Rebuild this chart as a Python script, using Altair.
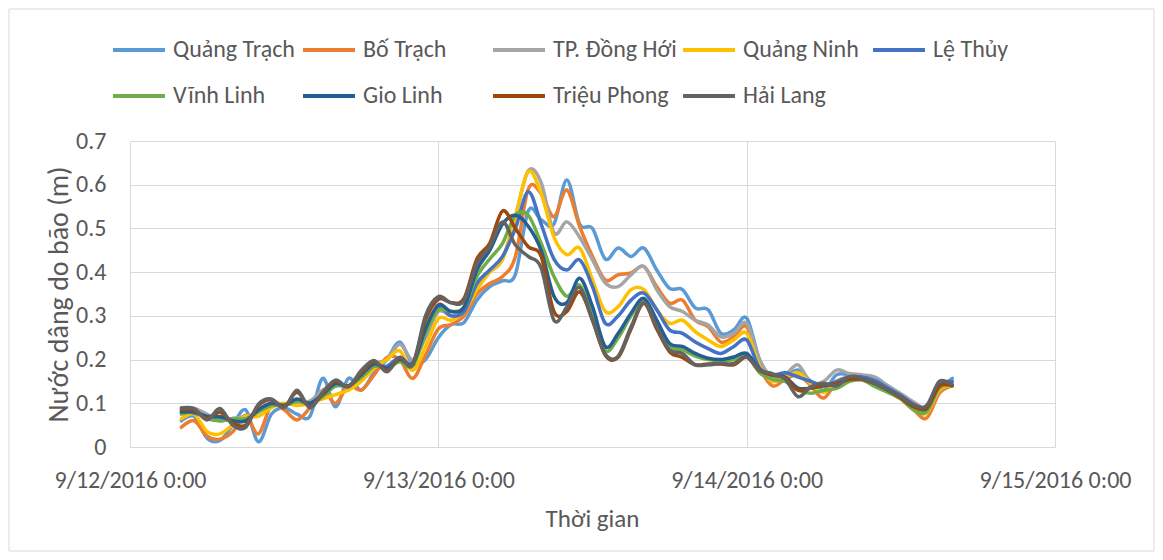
import altair as alt
import pandas as pd

# hourly records, 9/12/2016 04:00 -> 9/14/2016 16:00 (UTC labels, no tz shift)
hours = pd.date_range("2016-09-12 04:00", "2016-09-14 16:00", freq="h")
times = [t.strftime("%Y-%m-%dT%H:%M:%SZ") for t in hours]

series_names = ["Quảng Trạch", "Bố Trạch", "TP. Đồng Hới", "Quảng Ninh", "Lệ Thủy",
                "Vĩnh Linh", "Gio Linh", "Triệu Phong", "Hải Lang"]
colors = ["#5B9BD5", "#ED7D31", "#A5A5A5", "#FFC000", "#4472C4",
          "#70AD47", "#255E91", "#9E480E", "#636363"]

quang_trach = [0.060, 0.070, 0.020, 0.015, 0.050, 0.085, 0.012, 0.075, 0.090, 0.075, 0.070,
               0.157, 0.092, 0.157, 0.130, 0.170, 0.200, 0.240, 0.190, 0.200, 0.250,
               0.280, 0.285, 0.336, 0.367, 0.380, 0.395, 0.540, 0.520, 0.510, 0.611, 0.510,
               0.500, 0.430, 0.455, 0.436, 0.455, 0.405, 0.363, 0.360, 0.318, 0.314, 0.260, 0.268, 0.295,
               0.200, 0.155, 0.160, 0.176, 0.150, 0.130, 0.165, 0.165, 0.160, 0.150, 0.132, 0.115, 0.098, 0.080, 0.130, 0.157]
bo_trach = [0.045, 0.060, 0.025, 0.018, 0.035, 0.072, 0.030, 0.095, 0.085, 0.062, 0.090,
            0.130, 0.100, 0.140, 0.130, 0.165, 0.205, 0.200, 0.157, 0.210, 0.270,
            0.280, 0.300, 0.350, 0.374, 0.390, 0.436, 0.590, 0.580, 0.527, 0.588, 0.504,
            0.436, 0.382, 0.394, 0.398, 0.413, 0.367, 0.329, 0.336, 0.290, 0.275, 0.240, 0.252, 0.275,
            0.185, 0.140, 0.155, 0.165, 0.140, 0.112, 0.150, 0.160, 0.158, 0.148, 0.128, 0.110, 0.085, 0.066, 0.123, 0.140]
dong_hoi = [0.090, 0.088, 0.075, 0.060, 0.065, 0.070, 0.080, 0.100, 0.098, 0.100, 0.105,
            0.130, 0.145, 0.140, 0.160, 0.190, 0.200, 0.235, 0.200, 0.250, 0.310,
            0.300, 0.310, 0.370, 0.400, 0.430, 0.527, 0.632, 0.605, 0.490, 0.515, 0.480,
            0.428, 0.375, 0.367, 0.394, 0.413, 0.360, 0.321, 0.310, 0.290, 0.279, 0.252, 0.260, 0.283,
            0.200, 0.160, 0.165, 0.188, 0.146, 0.150, 0.176, 0.168, 0.165, 0.160, 0.140, 0.122, 0.103, 0.090, 0.135, 0.150]
quang_ninh = [0.065, 0.075, 0.035, 0.030, 0.050, 0.070, 0.070, 0.090, 0.100, 0.095, 0.100,
              0.110, 0.120, 0.130, 0.150, 0.180, 0.200, 0.220, 0.175, 0.230, 0.294,
              0.290, 0.310, 0.360, 0.400, 0.430, 0.527, 0.630, 0.580, 0.480, 0.440, 0.455,
              0.382, 0.310, 0.321, 0.360, 0.360, 0.314, 0.283, 0.290, 0.264, 0.245, 0.230, 0.245, 0.260,
              0.185, 0.150, 0.160, 0.170, 0.145, 0.125, 0.150, 0.160, 0.158, 0.148, 0.130, 0.112, 0.090, 0.077, 0.130, 0.140]
le_thuy = [0.080, 0.078, 0.070, 0.065, 0.060, 0.060, 0.085, 0.100, 0.095, 0.105, 0.100,
           0.120, 0.140, 0.140, 0.160, 0.185, 0.185, 0.205, 0.190, 0.260, 0.320,
           0.300, 0.310, 0.374, 0.405, 0.436, 0.500, 0.584, 0.510, 0.430, 0.405, 0.428,
           0.367, 0.283, 0.300, 0.336, 0.352, 0.314, 0.268, 0.260, 0.240, 0.225, 0.214, 0.230, 0.245,
           0.180, 0.165, 0.170, 0.160, 0.150, 0.140, 0.150, 0.160, 0.160, 0.152, 0.135, 0.118, 0.098, 0.090, 0.140, 0.150]
vinh_linh = [0.075, 0.080, 0.065, 0.060, 0.065, 0.065, 0.080, 0.095, 0.095, 0.105, 0.100,
             0.115, 0.140, 0.140, 0.160, 0.185, 0.180, 0.195, 0.185, 0.260, 0.313,
             0.310, 0.320, 0.390, 0.430, 0.466, 0.530, 0.530, 0.466, 0.390, 0.345, 0.370,
             0.300, 0.220, 0.250, 0.300, 0.335, 0.285, 0.230, 0.222, 0.208, 0.200, 0.198, 0.200, 0.210,
             0.170, 0.155, 0.150, 0.130, 0.123, 0.130, 0.134, 0.150, 0.153, 0.138, 0.125, 0.110, 0.085, 0.080, 0.135, 0.140]
gio_linh = [0.080, 0.080, 0.070, 0.070, 0.060, 0.060, 0.085, 0.100, 0.095, 0.110, 0.100,
            0.120, 0.145, 0.140, 0.165, 0.190, 0.180, 0.200, 0.190, 0.270, 0.325,
            0.310, 0.320, 0.405, 0.450, 0.510, 0.530, 0.505, 0.450, 0.345, 0.330, 0.386,
            0.321, 0.230, 0.260, 0.306, 0.340, 0.290, 0.237, 0.230, 0.214, 0.203, 0.200, 0.206, 0.214,
            0.178, 0.165, 0.160, 0.135, 0.135, 0.140, 0.145, 0.155, 0.155, 0.145, 0.130, 0.115, 0.095, 0.088, 0.140, 0.142]
trieu_phong = [0.085, 0.085, 0.065, 0.080, 0.055, 0.050, 0.095, 0.108, 0.092, 0.125, 0.092,
               0.122, 0.150, 0.138, 0.170, 0.195, 0.175, 0.203, 0.190, 0.290, 0.338,
               0.330, 0.340, 0.430, 0.466, 0.540, 0.500, 0.458, 0.436, 0.310, 0.310, 0.355,
               0.290, 0.210, 0.205, 0.270, 0.328, 0.270, 0.218, 0.205, 0.188, 0.190, 0.190, 0.188, 0.205,
               0.175, 0.165, 0.158, 0.130, 0.135, 0.142, 0.145, 0.155, 0.155, 0.145, 0.130, 0.112, 0.092, 0.090, 0.140, 0.140]
hai_lang = [0.089, 0.088, 0.062, 0.088, 0.050, 0.045, 0.098, 0.110, 0.090, 0.130, 0.090,
            0.125, 0.153, 0.138, 0.175, 0.198, 0.172, 0.205, 0.188, 0.300, 0.344,
            0.330, 0.335, 0.420, 0.458, 0.515, 0.462, 0.436, 0.410, 0.290, 0.320, 0.365,
            0.290, 0.212, 0.208, 0.275, 0.330, 0.275, 0.222, 0.214, 0.188, 0.188, 0.191, 0.191, 0.206,
            0.176, 0.168, 0.155, 0.115, 0.138, 0.146, 0.140, 0.161, 0.157, 0.145, 0.130, 0.115, 0.096, 0.095, 0.150, 0.142]

series_values = [quang_trach, bo_trach, dong_hoi, quang_ninh, le_thuy,
                 vinh_linh, gio_linh, trieu_phong, hai_lang]

rows = []
for name, vals in zip(series_names, series_values):
    assert len(vals) == len(times), (name, len(vals))
    for t, v in zip(times, vals):
        rows.append({"time": t, "station": name, "value": v})
df = pd.DataFrame(rows)

FONT = "Carlito, 'Liberation Sans', Arial, sans-serif"
TXT = "#595959"

day_ticks = [alt.DateTime(year=2016, month=9, date=d, hours=0, utc=True) for d in (12, 13, 14, 15)]

x_enc = alt.X(
    "time:T",
    scale=alt.Scale(type="utc", domain=[day_ticks[0], day_ticks[-1]]),
    axis=alt.Axis(
        values=day_ticks,
        labelExpr="utcFormat(datum.value, '%-m/%-d/%Y %-H:%M')",
        title="Thời gian",
        labelFontSize=24, labelPadding=21, labelFlush=False, labelOverlap=False,
        titleFontSize=25, titleX=462, titleY=71, titleBaseline="middle",
        titleAlign="center",
    ),
)
y_enc = alt.Y(
    "value:Q",
    scale=alt.Scale(domain=[0, 0.7], nice=False),
    axis=alt.Axis(
        values=[0, 0.1, 0.2, 0.3, 0.4, 0.5, 0.6, 0.7],
        format=".1~f",
        title="Nước dâng do bão (m)",
        labelFontSize=24, labelPadding=24,
        titleFontSize=28, titleX=-71, titleY=153, titleAngle=270,
        titleAlign="center", titleBaseline="middle",
    ),
)
color_enc = alt.Color(
    "station:N",
    scale=alt.Scale(domain=series_names, range=colors),
    legend=alt.Legend(
        title=None, orient="none", legendX=-19, legendY=-119,
        direction="horizontal", columns=5, gridAlign="all",
        symbolType="stroke", symbolSize=2700, symbolStrokeWidth=4,
        labelFontSize=24, labelColor=TXT, labelFont=FONT, labelOffset=6,
        labelLimit=300, columnPadding=-2, rowPadding=6,
    ),
)

border = alt.Chart(alt.Data(values=[{"k": 1}])).mark_rect(
    fill="white", fillOpacity=0, stroke="#D9D9D9", strokeWidth=1
).encode(
    x=alt.value(-121), x2=alt.value(1024), y=alt.value(-132), y2=alt.value(410)
)

base = alt.Chart(df)
layers = [border]
for name in series_names:
    layers.append(
        base.transform_filter(alt.datum.station == name)
        .mark_line(interpolate="cardinal", strokeWidth=3.5, strokeCap="round", strokeJoin="round")
        .encode(x=x_enc, y=y_enc, color=color_enc)
    )

chart = alt.layer(*layers).properties(
    width=925, height=306,
    padding={"left": 122, "top": 133, "right": 100, "bottom": 105},
    autosize=alt.AutoSizeParams(type="none"),
).configure_axis(
    labelFont=FONT, titleFont=FONT, labelColor=TXT, titleColor=TXT,
    titleFontWeight="normal", gridColor="#D9D9D9", gridWidth=1,
    domain=False, ticks=False, tickSize=0,
).configure_view(strokeWidth=0)

chart.save("out.html", embed_options={"renderer": "svg", "actions": False})
